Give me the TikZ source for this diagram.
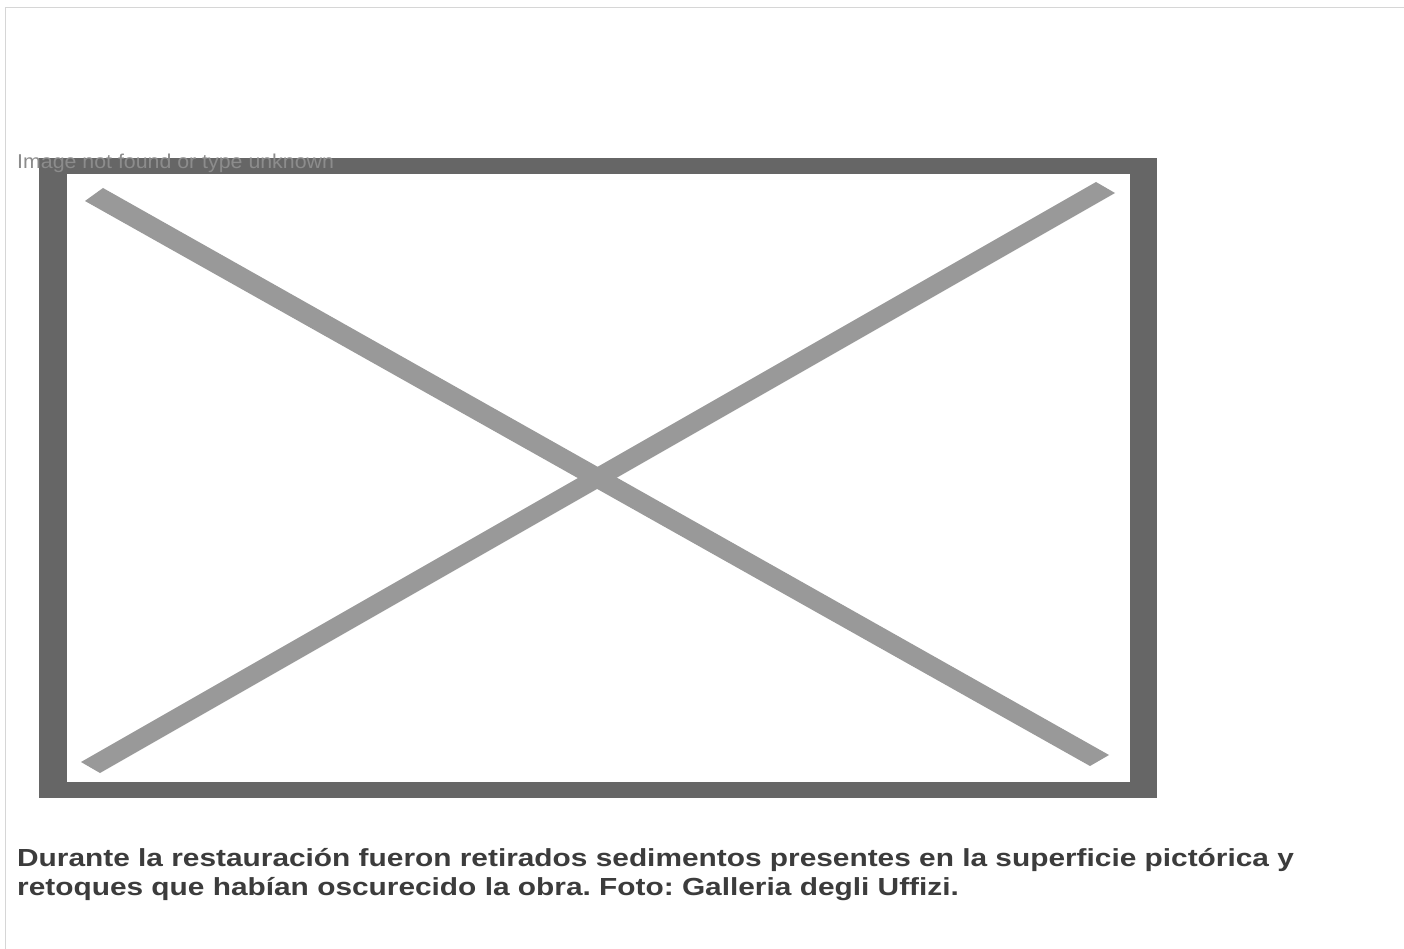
\documentclass[tikz,border=0pt]{standalone}
\usepackage{fontspec}
\setmainfont{Liberation Sans}
\newfontfamily\msgfont[FakeStretch=1.067]{Liberation Sans}
\newfontfamily\capfont[FakeStretch=1.208]{Liberation Sans}
\frenchspacing
\definecolor{framegray}{HTML}{666666}
\definecolor{xgray}{HTML}{999999}
\definecolor{bordergray}{HTML}{D6D6D6}
\definecolor{msggray}{HTML}{8C8C8C}
\definecolor{captext}{HTML}{3C3C3C}
\tikzset{
  msgtext/.style={anchor=base west, inner sep=0pt, text=msggray, font=\msgfont\fontsize{20}{24}\selectfont},
  captiontext/.style={anchor=base west, inner sep=0pt, text=captext, font=\capfont\fontsize{24.7}{30}\selectfont\bfseries\frenchspacing},
  framefill/.style={fill=framegray},
  crossbar/.style={fill=xgray}
}
\begin{document}
\begin{tikzpicture}[x=1pt,y=-1pt]
\useasboundingbox (0,0) rectangle (1404,949);
\fill[white] (0,0) rectangle (1404,949);
\draw[bordergray, line width=1.3pt] (5.5,949) -- (5.5,7.3) -- (1404,7.3);
\fill[framefill] (39,158) rectangle (1157,798);
\fill[white] (67,174) rectangle (1130,782);
\fill[crossbar] (85,201) -- (103,188) -- (1109,755) -- (1090,766) -- cycle;
\fill[crossbar] (81,762) -- (1096,182) -- (1115,193) -- (100,773) -- cycle;
\node[msgtext] (msg) at (17,168.3) {Image not found or type unknown};
\node[captiontext] (cap1) at (17,866.5) {Durante la restauración fueron retirados sedimentos presentes en la superficie pictórica y};
\node[captiontext] (cap2) at (17,895.7) {retoques que habían oscurecido la obra. Foto: Galleria degli Uffizi.};
\end{tikzpicture}
\end{document}
